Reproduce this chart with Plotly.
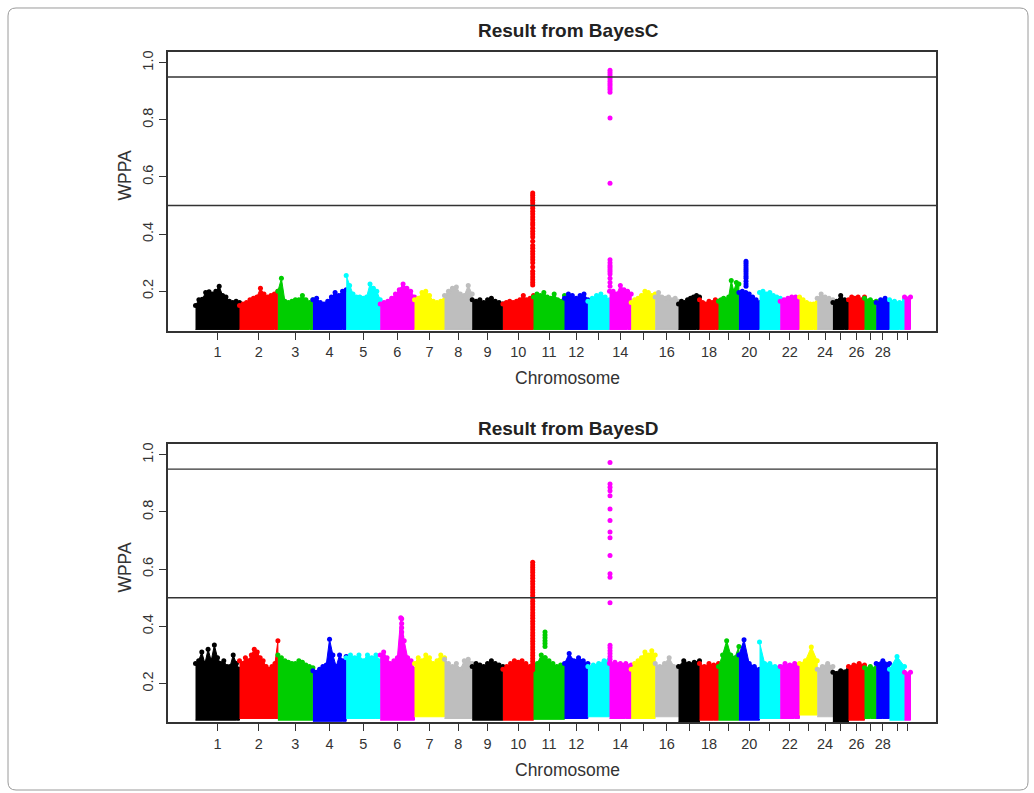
import plotly.graph_objects as go
import numpy as np

# ---------------- data ----------------
chromosomes = list(range(1, 31))
# relative chromosome sizes (marker-index span)
chrom_size = [440, 384, 350, 333, 340, 343, 300, 277, 307, 306, 310, 234, 216, 217, 240,
              233, 210, 190, 204, 206, 207, 193, 177, 157, 156, 160, 117, 133, 150, 60]
tick_labels = ["1", "2", "3", "4", "5", "6", "7", "8", "9", "10", "11", "12", "", "14", "",
               "16", "", "18", "", "20", "", "22", "", "24", "", "26", "", "28", "", ""]
palette = ["#000000", "#FF0000", "#00CD00", "#0000FF", "#00FFFF", "#FF00FF", "#FFFF00", "#BEBEBE"]

# BayesC: upper envelope of WPPA along each chromosome
bayesC_top = [
    [0.15, 0.17, 0.172, 0.195, 0.198, 0.19, 0.2, 0.217, 0.185, 0.18, 0.165, 0.16, 0.165, 0.16],
    [0.15, 0.155, 0.16, 0.17, 0.175, 0.18, 0.21, 0.19, 0.18, 0.185, 0.19, 0.2],
    [0.2, 0.245, 0.165, 0.16, 0.165, 0.17, 0.17, 0.185, 0.17, 0.16, 0.17],
    [0.17, 0.175, 0.16, 0.155, 0.165, 0.18, 0.195, 0.185, 0.2, 0.205],
    [0.255, 0.22, 0.19, 0.18, 0.18, 0.175, 0.18, 0.225, 0.21, 0.2, 0.17],
    [0.155, 0.16, 0.165, 0.175, 0.19, 0.205, 0.225, 0.21, 0.2, 0.18],
    [0.17, 0.175, 0.195, 0.2, 0.185, 0.165, 0.16, 0.165, 0.17],
    [0.185, 0.2, 0.21, 0.215, 0.19, 0.185, 0.22, 0.19],
    [0.17, 0.165, 0.17, 0.16, 0.17, 0.175, 0.165, 0.16, 0.155],
    [0.155, 0.16, 0.165, 0.16, 0.165, 0.17, 0.185, 0.17, 0.175, 0.185],
    [0.18, 0.19, 0.185, 0.195, 0.18, 0.175, 0.19, 0.17, 0.165, 0.185],
    [0.175, 0.19, 0.185, 0.175, 0.185, 0.19, 0.17],
    [0.165, 0.175, 0.185, 0.19, 0.18, 0.17],
    [0.2, 0.2, 0.19, 0.22, 0.205, 0.2, 0.19],
    [0.16, 0.17, 0.175, 0.185, 0.2, 0.195, 0.185, 0.19],
    [0.18, 0.195, 0.18, 0.175, 0.18, 0.17, 0.175, 0.165],
    [0.155, 0.165, 0.16, 0.17, 0.175, 0.18, 0.185, 0.18],
    [0.17, 0.16, 0.155, 0.165, 0.16, 0.17, 0.165],
    [0.165, 0.17, 0.175, 0.17, 0.18, 0.237, 0.2, 0.23, 0.225],
    [0.195, 0.2, 0.195, 0.19, 0.18, 0.17, 0.16],
    [0.195, 0.2, 0.19, 0.195, 0.185, 0.18, 0.175],
    [0.165, 0.17, 0.175, 0.18, 0.18, 0.175],
    [0.18, 0.17, 0.16, 0.155, 0.155, 0.16],
    [0.175, 0.19, 0.18, 0.175, 0.17],
    [0.16, 0.165, 0.185, 0.17, 0.165],
    [0.17, 0.18, 0.175, 0.18, 0.17, 0.18],
    [0.175, 0.17, 0.165],
    [0.16, 0.17, 0.175, 0.165],
    [0.17, 0.165, 0.16, 0.17],
    [0.18, 0.18],
]
bayesC_low = [0.066] * 30

# BayesD: upper envelope and lower edge
bayesD_top = [
    [0.27, 0.28, 0.31, 0.27, 0.32, 0.28, 0.335, 0.29, 0.27, 0.28, 0.26, 0.26, 0.3, 0.27, 0.25],
    [0.28, 0.27, 0.29, 0.28, 0.3, 0.32, 0.31, 0.29, 0.28, 0.26, 0.25, 0.26, 0.27, 0.35],
    [0.3, 0.29, 0.28, 0.275, 0.27, 0.27, 0.28, 0.275, 0.265, 0.26, 0.255],
    [0.245, 0.24, 0.25, 0.26, 0.265, 0.355, 0.3, 0.26, 0.3, 0.28, 0.295],
    [0.29, 0.3, 0.29, 0.3, 0.28, 0.3, 0.29, 0.3, 0.28],
    [0.3, 0.31, 0.29, 0.27, 0.28, 0.29, 0.43, 0.35, 0.29, 0.28, 0.25],
    [0.27, 0.29, 0.28, 0.3, 0.29, 0.27, 0.28, 0.3, 0.29],
    [0.285, 0.27, 0.26, 0.27, 0.25, 0.28, 0.285, 0.27],
    [0.26, 0.27, 0.265, 0.26, 0.27, 0.28, 0.27, 0.265, 0.26],
    [0.25, 0.26, 0.27, 0.28, 0.275, 0.28, 0.27, 0.26, 0.25],
    [0.26, 0.27, 0.3, 0.29, 0.28, 0.27, 0.26, 0.265, 0.26],
    [0.27, 0.305, 0.28, 0.29, 0.28, 0.27],
    [0.26, 0.265, 0.27, 0.28, 0.285],
    [0.27, 0.275, 0.27, 0.27, 0.265],
    [0.25, 0.27, 0.28, 0.29, 0.31, 0.3, 0.315, 0.3],
    [0.27, 0.26, 0.27, 0.29, 0.26, 0.25],
    [0.26, 0.28, 0.27, 0.275, 0.28],
    [0.27, 0.26, 0.27, 0.265, 0.27],
    [0.26, 0.3, 0.35, 0.3, 0.29, 0.33],
    [0.3, 0.353, 0.27, 0.26, 0.25],
    [0.345, 0.27, 0.27, 0.26, 0.26],
    [0.26, 0.27, 0.265, 0.27, 0.265],
    [0.27, 0.28, 0.328, 0.28],
    [0.25, 0.26, 0.27, 0.26],
    [0.24, 0.245, 0.25],
    [0.26, 0.265, 0.27, 0.265],
    [0.255, 0.26, 0.255],
    [0.27, 0.28, 0.27],
    [0.25, 0.295, 0.26],
    [0.24, 0.24],
]
bayesD_low = [0.072, 0.078, 0.072, 0.068, 0.078, 0.072, 0.084, 0.078, 0.072, 0.072,
              0.075, 0.078, 0.084, 0.078, 0.078, 0.084, 0.066, 0.072, 0.072, 0.072,
              0.078, 0.078, 0.090, 0.084, 0.066, 0.072, 0.078, 0.078, 0.072, 0.072]

# isolated high-WPPA windows (chromosome, offset within chromosome, values)
bayesC_peak_chrom = [10, 14, 20]
bayesC_peak_offset = [298, 5, 71]
bayesC_peak_values = [
    [0.544, 0.536, 0.527, 0.518, 0.51, 0.5, 0.49, 0.48, 0.47, 0.46, 0.45, 0.44, 0.432, 0.42,
     0.41, 0.4, 0.39, 0.375, 0.36, 0.35, 0.34, 0.33, 0.32, 0.31, 0.3, 0.285, 0.27, 0.26,
     0.25, 0.24, 0.23, 0.222],
    [0.974, 0.966, 0.958, 0.95, 0.943, 0.935, 0.927, 0.92, 0.912, 0.905, 0.897, 0.806, 0.578,
     0.31, 0.3, 0.29, 0.283, 0.275, 0.268, 0.26, 0.245, 0.23, 0.217],
    [0.305, 0.298, 0.29, 0.282, 0.275, 0.268, 0.26, 0.252, 0.245, 0.235, 0.225, 0.217],
]
bayesD_peak_chrom = [6, 10, 11, 14]
bayesD_peak_offset = [215, 298, 115, 5]
bayesD_peak_values = [
    [0.427, 0.41, 0.395, 0.38, 0.365, 0.35, 0.335],
    [0.624, 0.615, 0.606, 0.597, 0.588, 0.578, 0.568, 0.558, 0.548, 0.538, 0.528, 0.518,
     0.508, 0.498, 0.488, 0.478, 0.468, 0.458, 0.448, 0.438, 0.428, 0.418, 0.408, 0.398,
     0.388, 0.378, 0.368, 0.358, 0.348, 0.338, 0.328, 0.318, 0.308, 0.298, 0.288, 0.278,
     0.268, 0.258, 0.248],
    [0.38, 0.37, 0.36, 0.35, 0.34, 0.33, 0.29, 0.28],
    [0.973, 0.898, 0.886, 0.874, 0.857, 0.81, 0.77, 0.73, 0.71, 0.648, 0.584, 0.572, 0.483,
     0.334, 0.325, 0.315, 0.305, 0.295, 0.285, 0.275],
]

thresholds = [0.95, 0.5]
panel_titles = ["Result from BayesC", "Result from BayesD"]

# ---------------- figure ----------------
W, H = 1034, 793
FONT = "Liberation Sans, Arial, Helvetica, sans-serif"
starts = np.concatenate([[0], np.cumsum(chrom_size)[:-1]])
centers = starts + np.array(chrom_size) / 2.0
total = float(np.sum(chrom_size))
x_range = [-275, total + 255]

fig = go.Figure()

panels = [
    dict(top=bayesC_top, low=bayesC_low, pc=bayesC_peak_chrom, po=bayesC_peak_offset,
         pv=bayesC_peak_values, xa="x", ya="y"),
    dict(top=bayesD_top, low=bayesD_low, pc=bayesD_peak_chrom, po=bayesD_peak_offset,
         pv=bayesD_peak_values, xa="x2", ya="y2"),
]

for p in panels:
    for i, c in enumerate(chromosomes):
        col = palette[i % 8]
        tops = p["top"][i]
        n = len(tops)
        xs = list(np.linspace(starts[i], starts[i] + chrom_size[i], n))
        poly_x = xs + xs[::-1]
        poly_y = list(tops) + [p["low"][i]] * n
        fig.add_trace(go.Scatter(x=poly_x, y=poly_y, fill="toself", fillcolor=col,
                                 mode="lines", line=dict(color=col, width=1),
                                 xaxis=p["xa"], yaxis=p["ya"], showlegend=False,
                                 hoverinfo="skip"))
        fig.add_trace(go.Scatter(x=xs, y=tops, mode="markers",
                                 marker=dict(color=col, size=5),
                                 xaxis=p["xa"], yaxis=p["ya"], showlegend=False))
    for c, off, vals in zip(p["pc"], p["po"], p["pv"]):
        col = palette[(c - 1) % 8]
        fig.add_trace(go.Scatter(x=[starts[c - 1] + off] * len(vals), y=vals, mode="markers",
                                 marker=dict(color=col, size=5),
                                 xaxis=p["xa"], yaxis=p["ya"], showlegend=False))

xdom = [168 / W, 936 / W]
ydom_top = [1 - 330 / H, 1 - 50 / H]
ydom_bot = [1 - 722.3 / H, 1 - 443.3 / H]

axis_common = dict(showgrid=False, zeroline=False, showline=True, mirror=True,
                   linecolor="#333333", linewidth=1.5, ticks="outside", ticklen=7,
                   tickwidth=1, tickcolor="#333333",
                   tickfont=dict(family=FONT, size=14.5, color="#333333"))

xcommon = dict(axis_common, range=x_range, tickmode="array", tickvals=list(centers),
               ticktext=tick_labels, domain=xdom)
ycommon = dict(axis_common, tickmode="array", tickvals=[0.2, 0.4, 0.6, 0.8, 1.0],
               ticktext=["0.2", "0.4", "0.6", "0.8", "1.0"], tickangle=-90)

fig.update_layout(
    width=W, height=H, margin=dict(l=0, r=0, t=0, b=0),
    paper_bgcolor="white", plot_bgcolor="white",
    xaxis=dict(xcommon, anchor="y"),
    yaxis=dict(ycommon, anchor="x", domain=ydom_top, range=[0.06, 1.038]),
    xaxis2=dict(xcommon, anchor="y2"),
    yaxis2=dict(ycommon, anchor="x2", domain=ydom_bot, range=[0.064, 1.037]),
)

shapes = []
for xa, ya in [("x", "y"), ("x2", "y2")]:
    for t in thresholds:
        shapes.append(dict(type="line", xref=f"{xa} domain", yref=ya, x0=0, x1=1, y0=t, y1=t,
                           line=dict(color="#333333", width=1.3), layer="above"))
# outer rounded frame
l, r, tt, b, rad = 8, 1028, 6, 790, 8
def px(x): return x / W
def py(y): return 1 - y / H
path = (f"M {px(l+rad)},{py(tt)} L {px(r-rad)},{py(tt)} Q {px(r)},{py(tt)} {px(r)},{py(tt+rad)} "
        f"L {px(r)},{py(b-rad)} Q {px(r)},{py(b)} {px(r-rad)},{py(b)} "
        f"L {px(l+rad)},{py(b)} Q {px(l)},{py(b)} {px(l)},{py(b-rad)} "
        f"L {px(l)},{py(tt+rad)} Q {px(l)},{py(tt)} {px(l+rad)},{py(tt)} Z")
shapes.append(dict(type="path", xref="paper", yref="paper", path=path,
                   line=dict(color="#9a9a9a", width=1)))
fig.update_layout(shapes=shapes)

annos = []
for title, ty, xlab_y, ylab_y in [(panel_titles[0], 29, 377, 174), (panel_titles[1], 428, 770, 567)]:
    annos.append(dict(text=f"<b>{title}</b>", x=568 / W, y=py(ty), xref="paper", yref="paper",
                      showarrow=False, xanchor="center", yanchor="middle",
                      font=dict(family=FONT, size=19, color="#222222")))
    annos.append(dict(text="Chromosome", x=567 / W, y=py(xlab_y), xref="paper", yref="paper",
                      showarrow=False, xanchor="center", yanchor="middle",
                      font=dict(family=FONT, size=17.5, color="#333333")))
    annos.append(dict(text="WPPA", x=125 / W, y=py(ylab_y), xref="paper", yref="paper",
                      showarrow=False, xanchor="center", yanchor="middle", textangle=-90,
                      font=dict(family=FONT, size=17.5, color="#333333")))
fig.update_layout(annotations=annos)

fig.write_html("out.html")
